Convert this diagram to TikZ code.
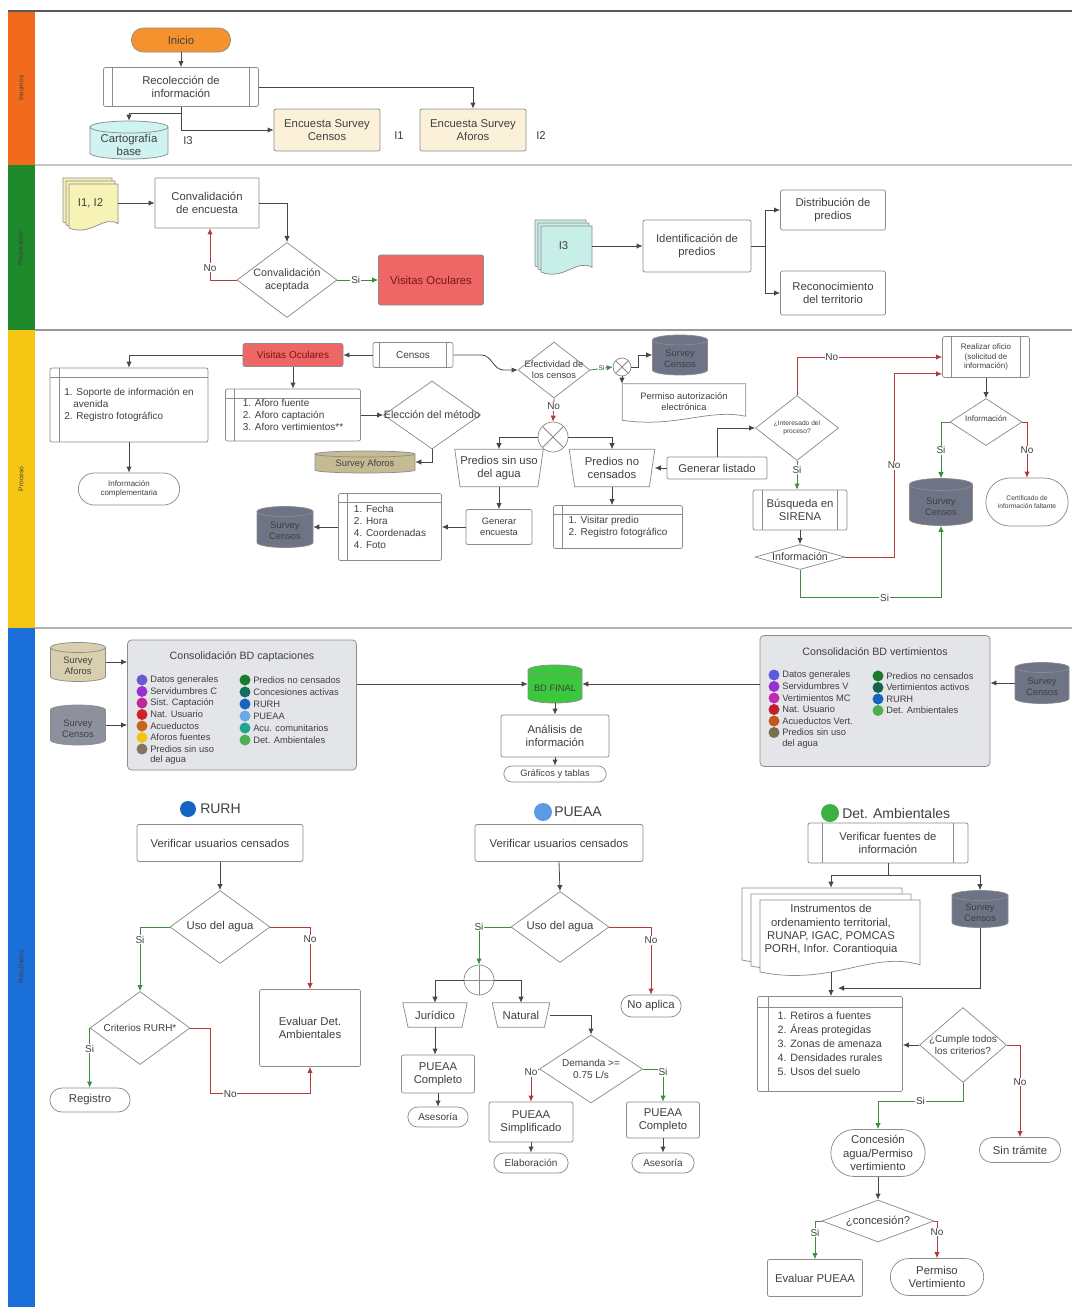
\documentclass[tikz,border=0pt]{standalone}
\usepackage{fontspec}
\setmainfont{Liberation Sans}
\usetikzlibrary{shapes.geometric,shapes.misc,arrows.meta,calc}
\definecolor{laneO}{HTML}{F26A1B}
\definecolor{laneG}{HTML}{1F8A2C}
\definecolor{laneY}{HTML}{F6C615}
\definecolor{laneB}{HTML}{1B6FD9}
\definecolor{inicioC}{HTML}{F5922E}
\definecolor{cartC}{HTML}{CFF3F1}
\definecolor{encC}{HTML}{FBF1D8}
\definecolor{docY}{HTML}{F7F3B7}
\definecolor{docC}{HTML}{C8EEE8}
\definecolor{visC}{HTML}{EE6666}
\definecolor{visT}{HTML}{7A1515}
\definecolor{scC}{HTML}{6E7385}
\definecolor{scL}{HTML}{8D919D}
\definecolor{safC}{HTML}{C4BB93}
\definecolor{safL}{HTML}{D8CFAE}
\definecolor{bdC}{HTML}{3CC83C}
\definecolor{consC}{HTML}{E4E5E8}
\definecolor{redL}{HTML}{B23A3A}
\definecolor{grnL}{HTML}{3A8F3A}
\definecolor{txtC}{HTML}{404040}
\definecolor{edgeC}{HTML}{8C8C8C}
\definecolor{lineC}{HTML}{474747}
\definecolor{rurhC}{HTML}{1565C0}
\definecolor{pueaaC}{HTML}{5B9BE6}
\definecolor{detC}{HTML}{3CB043}
\definecolor{lcA}{HTML}{6A5ACD}
\definecolor{lcB}{HTML}{9B30D0}
\definecolor{lcC}{HTML}{C0289A}
\definecolor{lcD}{HTML}{D0202A}
\definecolor{lcE}{HTML}{C8641E}
\definecolor{lcF}{HTML}{F0C419}
\definecolor{lcG}{HTML}{857560}
\definecolor{lcH}{HTML}{1B7A2C}
\definecolor{lcI}{HTML}{13705F}
\definecolor{lcJ}{HTML}{1565C0}
\definecolor{lcK}{HTML}{6AA9E9}
\definecolor{lcL}{HTML}{21A38E}
\definecolor{lcM}{HTML}{4CAF50}
\definecolor{lvA}{HTML}{5B5BE0}
\definecolor{lvB}{HTML}{9B30D0}
\definecolor{lvC}{HTML}{C02AB0}
\definecolor{lvD}{HTML}{C0202A}
\definecolor{lvE}{HTML}{C0581E}
\definecolor{lvF}{HTML}{77704E}
\definecolor{lvG}{HTML}{1B7A2C}
\definecolor{lvH}{HTML}{146150}
\definecolor{lvI}{HTML}{1565C0}
\definecolor{lvJ}{HTML}{4CAF50}
\newcommand\myfM{\fontsize{8.5}{10}\selectfont}
\newcommand\myfL{\fontsize{7.5}{9}\selectfont}
\newcommand\myfS{\fontsize{7}{8.2}\selectfont}
\newcommand\myfX{\fontsize{6}{7}\selectfont}
\newcommand\myfT{\fontsize{5}{6}\selectfont}
\newcommand\myfH{\fontsize{10.5}{12}\selectfont}
\tikzset{
 bw/.style={minimum width=#1*0.75pt},
 bh/.style={minimum height=#1*0.75pt},
 txt/.style={font=\myfM, text=txtC, align=center},
 plain/.style={txt, inner sep=0pt},
 shapeline/.style={draw=edgeC, line width=0.55pt},
 box/.style={txt, shapeline, rounded corners=1.5pt, fill=white, inner sep=1pt},
 predef/.style={box, path picture={
   \draw[edgeC, line width=0.55pt] ([xshift=#1]path picture bounding box.north west) -- ([xshift=#1]path picture bounding box.south west);
   \draw[edgeC, line width=0.55pt] ([xshift=-#1]path picture bounding box.north east) -- ([xshift=-#1]path picture bounding box.south east);}},
 predef/.default=6pt,
 liststore/.style={box, align=left, font=\myfL, path picture={
   \draw[edgeC, line width=0.55pt] ([xshift=#1]path picture bounding box.north west) -- ([xshift=#1]path picture bounding box.south west);
   \draw[edgeC, line width=0.55pt] ([yshift=-#1]path picture bounding box.north west) -- ([yshift=-#1]path picture bounding box.north east);}},
 liststore/.default=7pt,
 pill/.style={txt, rounded rectangle, shapeline, fill=white, inner sep=1pt},
 dia/.style={diamond, shapeline, fill=white, inner sep=0pt},
 sumj/.style={circle, shapeline, fill=white, inner sep=0pt, minimum size=#1*0.75pt, path picture={
   \draw[edgeC, line width=0.55pt] (path picture bounding box.north west) -- (path picture bounding box.south east) (path picture bounding box.north east) -- (path picture bounding box.south west);}},
 orj/.style={circle, shapeline, fill=white, inner sep=0pt, minimum size=#1*0.75pt, path picture={
   \draw[edgeC, line width=0.55pt] (path picture bounding box.north) -- (path picture bounding box.south) (path picture bounding box.west) -- (path picture bounding box.east);}},
 con/.style={draw=lineC, line width=0.6pt},
 arr/.style={con, -{Latex[length=4.5pt,width=4pt]}},
 rarr/.style={arr, draw=redL},
 garr/.style={arr, draw=grnL},
 lab/.style={txt, font=\myfL, fill=white, inner sep=0.6pt},
 lanelab/.style={rotate=90, font=\myfT, text=black!75},
 legt/.style={txt, font=\myfS, align=left, anchor=west, inner sep=0pt},
 legd/.style={circle, inner sep=0pt, minimum size=11*0.75pt},
}
\newcommand\cylfont{\myfS}
\newcommand\cylnode[8]{%
 \pgfmathsetmacro\cyA{#2-#4/2}\pgfmathsetmacro\cyB{#2+#4/2}%
 \pgfmathsetmacro\cyT{#3-#5/2+#7}\pgfmathsetmacro\cyD{#3+#5/2-#7}%
 \pgfmathsetmacro\cyR{#4*0.375}\pgfmathsetmacro\cyE{#7*0.75}%
 \draw[shapeline, fill=#6] (\cyA,\cyT) -- (\cyA,\cyD) arc[start angle=180, end angle=360, x radius=\cyR pt, y radius=\cyE pt] -- (\cyB,\cyT) arc[start angle=0, end angle=180, x radius=\cyR pt, y radius=\cyE pt] -- cycle;
 \draw[shapeline] (\cyB,\cyT) arc[start angle=360, end angle=180, x radius=\cyR pt, y radius=\cyE pt];
 \node[plain, minimum width=#4*0.75pt, minimum height=#5*0.75pt, label={[plain, font=\cylfont, yshift=-#7*0.6pt]center:#8}] (#1) at (#2,#3) {};
}
\newcommand\docpath[5]{%
 \pgfmathsetmacro\dkW{#3-(#1)}\pgfmathsetmacro\dkA{(#4-(#2))*0.1}%
 \draw[shapeline, fill=#5] (#1,#2) -- (#3,#2) -- (#3,#4-\dkA) .. controls (#3-0.3*\dkW,#4-3*\dkA) and (#1+0.45*\dkW,#4+2*\dkA) .. (#1,#4) -- cycle;
}
\newcommand\mdocnode[9]{%
 \pgfmathsetmacro\mdA{#2-2*#7}\pgfmathsetmacro\mdB{#3-2*#8}%
 \pgfmathsetmacro\mdC{#4-2*#7}\pgfmathsetmacro\mdD{#5-2*#8}%
 \docpath{\mdA}{\mdB}{\mdC}{\mdD}{#6}%
 \pgfmathsetmacro\mdA{#2-#7}\pgfmathsetmacro\mdB{#3-#8}%
 \pgfmathsetmacro\mdC{#4-#7}\pgfmathsetmacro\mdD{#5-#8}%
 \docpath{\mdA}{\mdB}{\mdC}{\mdD}{#6}%
 \docpath{#2}{#3}{#4}{#5}{#6}%
 \pgfmathsetmacro\mdA{#2-2*#7}\pgfmathsetmacro\mdB{#3-2*#8}%
 \node[plain, minimum width=(#4-\mdA)*0.75pt, minimum height=(#5-\mdB)*0.75pt] (#1) at ({(\mdA+#4)/2},{(\mdB+#5)/2}) {#9};%
}
\newcommand\trapdraw[1]{\draw[shapeline] (#1.north west) -- (#1.north east) -- ([xshift=-4pt]#1.south east) -- ([xshift=4pt]#1.south west) -- cycle;}
\newcommand\legitem[5]{\node[legd, fill=#4] (#1d) at (#2,#3) {};\node[legt] (#1) at (#2+8,#3) {#5};}
\begin{document}
\begin{tikzpicture}[x=0.75pt,y=-0.75pt]
\useasboundingbox (0,0) rectangle (1072,1307);
\fill[white] (0,0) rectangle (1072,1307);
% ---------------- lanes
\fill[laneO] (8,12) rectangle (35,165);
\fill[laneG] (8,165) rectangle (35,330);
\fill[laneY] (8,330) rectangle (35,628);
\fill[laneB] (8,628) rectangle (35,1307);
\draw[black!65, line width=1.1pt] (8,11) -- (1072,11);
\draw[black!22, line width=1.5pt] (35,165) -- (1072,165);
\draw[black!40, line width=1pt] (35,330) -- (1072,330);
\draw[black!30, line width=1pt] (35,628) -- (1072,628);
\node[lanelab] (ln1) at (21,88) {Insumos};
\node[lanelab] (ln2) at (21,248) {Preparación};
\node[lanelab] (ln3) at (21,479) {Proceso};
\node[lanelab] (ln4) at (21,967) {Resultados};

% ---------------- lane 1
\node[pill, fill=inicioC, bw=102, bh=24] (ini) at (181,40) {Inicio};
\node[predef=7pt, bw=155, bh=39] (rec) at (181,87) {Recolección de\\información};
\renewcommand\cylfont{\myfM}
\cylnode{cart}{129}{140}{78}{38}{cartC}{6}{Cartografía\\base}
\renewcommand\cylfont{\myfS}
\node[box, fill=encC, bw=106, bh=42] (encc) at (327,130) {Encuesta Survey\\Censos};
\node[plain] (i1) at (399,136) {I1};
\node[box, fill=encC, bw=106, bh=42] (enca) at (473,130) {Encuesta Survey\\Aforos};
\node[plain] (i2) at (541,136) {I2};
\node[plain] (i3) at (188,141) {I3};
\draw[arr] (ini.south) -- (rec.north);
\draw[arr] (rec.south) |- (encc.west);
\draw[arr] ($(rec.south)+(0,7)$) -| (cart.north);
\draw[arr] (rec.east) -| (enca.north);

% ---------------- lane 2
\mdocnode{i12}{69}{184}{118}{228}{docY}{3}{3}{I1, I2}
\node[box, rounded corners=0.5pt, bw=104, bh=50] (conv) at (207,203) {Convalidación\\de encuesta};
\node[dia, bw=100, bh=75] (cacep) at (287,280) {};
\node[plain, font=\fontsize{8}{9.5}\selectfont] (cacepT) at (cacep) {Convalidación\\aceptada};
\node[box, fill=visC, text=visT, bw=105, bh=50] (vo1) at (431,280) {Visitas Oculares};
\draw[arr] (i12.east) -- (conv.west);
\draw[arr] (conv.east) -| (cacep.north);
\draw[rarr] (cacep.west) -| ($(conv.south)+(3,0)$) node[lab, pos=0.62] (lno1) {No};
\draw[garr] (cacep.east) -- (vo1.west) node[lab, pos=0.45] (lsi1) {Si};

\mdocnode{i3d}{541}{226}{592}{272}{docC}{3}{3}{I3}
\node[box, bw=108, bh=52] (ident) at (697,246) {Identificación de\\predios};
\node[box, bw=105, bh=40] (dist) at (833,210) {Distribución de\\predios};
\node[box, bw=105, bh=44] (recon) at (833,293) {Reconocimiento\\del territorio};
\draw[arr] (i3d.east) -- (ident.west);
\draw[con] (ident.east) -- ++(14,0) coordinate (br1);
\draw[arr] (br1) |- (dist.west);
\draw[arr] (br1) |- (recon.west);

% ---------------- lane 3
\node[box, fill=visC, text=visT, font=\myfL, bw=100, bh=23] (vo2) at (293,355) {Visitas Oculares};
\node[predef=5pt, font=\myfL, bw=80, bh=25] (cen) at (413,355) {Censos};
\node[liststore, bw=158, bh=74] (sop) at (129,405) {1. Soporte de información en\\\hspace*{0.9em}avenida\\2. Registro fotográfico};
\node[pill, font=\myfX, bw=104, bh=32] (infc) at (129,489) {Información\\complementaria};
\node[liststore, bw=135, bh=52] (afo) at (293,415) {1. Aforo fuente\\2. Aforo captación\\3. Aforo vertimientos**};
\node[dia, bw=97, bh=68] (elec) at (432,415) {};
\node[plain, font=\fontsize{8}{9.5}\selectfont] (elecT) at (elec) {Elección del método};
\cylnode{saf1}{365}{462}{100}{22}{safC}{3}{Survey Aforos}
\node[dia, bw=72, bh=56] (efec) at (554,370) {};
\node[plain, font=\myfS] (efecT) at (efec) {Efectividad de\\los censos};
\node[sumj=18] (cx1) at (622,367) {};
\cylnode{sc1}{680}{355}{55}{40}{scC}{5}{Survey\\Censos}
\node[plain, font=\myfS, bw=123, bh=36] (perm) at (684,402) {Permiso autorización\\electrónica};
\draw[shapeline] (perm.north west) -- (perm.north east) -- ([yshift=3pt]perm.south east) .. controls ($(perm.south east)+(-28pt,9pt)$) and ($(perm.south west)+(40pt,-6pt)$) .. (perm.south west) -- cycle;
\node[sumj=30] (cx2) at (553,437) {};
\node[plain, bw=88, bh=37] (psu) at (499,468) {Predios sin uso\\del agua};
\node[plain, bw=85, bh=37] (pnc) at (612,468) {Predios no\\censados};
\trapdraw{psu}\trapdraw{pnc}
\node[box, bw=100, bh=22] (glis) at (717,468) {Generar listado};
\node[box, font=\myfS, bw=66, bh=35] (genc) at (499,527) {Generar\\encuesta};
\node[liststore, bw=129, bh=43] (vis) at (618,527) {1. Visitar predio\\2. Registro fotográfico};
\node[liststore, bw=103, bh=67] (fec) at (390,527) {1. Fecha\\2. Hora\\4. Coordenadas\\4. Foto};
\cylnode{sc2}{285}{527}{56}{41}{scC}{5}{Survey\\Censos}
\node[dia, bw=83, bh=65] (intd) at (797,428) {};
\node[plain, font=\myfT] (intdT) at (intd) {¿Interesado del\\proceso?};
\node[predef=7pt, bw=94, bh=40] (sir) at (800,510) {Búsqueda en\\SIRENA};
\node[dia, bw=90, bh=25] (infd) at (800,557) {};
\node[plain, font=\fontsize{8}{9.5}\selectfont] (infdT) at (infd) {Información};
\node[predef=7pt, font=\myfX, bw=87, bh=41] (ofi) at (986,357) {Realizar oficio\\(solicitud de\\información)};
\node[dia, bw=72, bh=47] (infd2) at (986,422) {};
\node[plain, font=\myfX] (infd2T) at ($(infd2)+(0,-3)$) {Información};
\cylnode{sc3}{941}{502}{63}{47}{scC}{6}{Survey\\Censos}
\node[pill, font=\myfT, bw=85, bh=48] (cert) at (1027,502) {Certificado de\\información faltante};

\draw[arr] (vo2.west) -| (sop.north);
\draw[arr] (sop.south) -- (infc.north);
\draw[arr] (vo2.south) -- (afo.north);
\draw[arr] (afo.east) -- (elec.west);
\draw[arr] (elec.south) |- (saf1.east);
\draw[arr] (cen.west) -- (vo2.east);
\draw[arr] (cen.east) -- ++(28,0) to[out=0,in=180] ($(efec.west)+(-14,0)$) -- (efec.west);
\draw[garr] (efec.east) -- (cx1.west) node[lab, font=\myfT, pos=0.5] (lsi2) {Si};
\draw[arr] (cx1.east) -- ++(7,0) |- (sc1.west);
\draw[arr] (cx1.south) -- (cx1.south |- perm.north);
\draw[rarr] (efec.south) -- (cx2.north) node[lab, pos=0.35] (lno2) {No};
\draw[arr] (cx2.west) -| (psu.north);
\draw[arr] (cx2.east) -| (pnc.north);
\draw[arr] (glis.west) -- (pnc.east);
\draw[arr] (glis.north) |- (intd.west);
\draw[arr] (psu.south) -- (genc.north);
\draw[arr] (genc.west) -- (fec.east);
\draw[arr] (fec.west) -- (sc2.east);
\draw[arr] (pnc.south) -- (pnc.south |- vis.north);
\draw[rarr] (intd.north) |- (ofi.west) node[lab, pos=0.62] (lno3) {No};
\draw[garr] (intd.south) -- (intd.south |- sir.north) node[lab, pos=0.3] (lsi3) {Si};
\draw[arr] (sir.south) -- (infd.north);
\draw[rarr] (infd.east) -| ($(ofi.south west)+(-48,-4)$) node[lab, pos=0.75] (lno4) {No} -- ($(ofi.south west)+(0,-4)$);
\draw[garr] (infd.south) |- ($(sc3.south)+(0,72)$) node[lab, pos=0.8] (lsi4) {Si} -- (sc3.south);
\draw[arr] (ofi.south) -- (infd2.north);
\draw[garr] (infd2.west) -| (sc3.north) node[lab, pos=0.75] (lsi5) {Si};
\draw[rarr] (infd2.east) -| (cert.north) node[lab, pos=0.75] (lno5) {No};

% ---------------- lane 4 top
\cylnode{saf2}{78}{662}{55}{39}{safL}{5}{Survey\\Aforos}
\cylnode{sc4}{78}{725}{55}{40}{scL}{5}{Survey\\Censos}
\node[box, fill=consC, rounded corners=3pt, bw=229, bh=130] (capt) at (242,705) {};
\node[plain, font=\fontsize{8}{9.5}\selectfont] (captT) at (242,657) {Consolidación BD captaciones};
\draw[arr] (saf2.east) -- (saf2.east -| capt.west);
\draw[arr] (sc4.east) -- (sc4.east -| capt.west);
\legitem{lcA}{142}{680}{lcA}{Datos generales}
\legitem{lcB}{142}{691.5}{lcB}{Servidumbres C}
\legitem{lcC}{142}{703}{lcC}{Sist. Captación}
\legitem{lcD}{142}{714.5}{lcD}{Nat. Usuario}
\legitem{lcE}{142}{726}{lcE}{Acueductos}
\legitem{lcF}{142}{737.5}{lcF}{Aforos fuentes}
\legitem{lcG}{142}{749}{lcG}{Predios sin uso}
\node[legt] (lcGb) at (150,760.5) {del agua};
\legitem{lcH}{245}{680}{lcH}{Predios no censados}
\legitem{lcI}{245}{692}{lcI}{Concesiones activas}
\legitem{lcJ}{245}{704}{lcJ}{RURH}
\legitem{lcK}{245}{716}{lcK}{PUEAA}
\legitem{lcL}{245}{728}{lcL}{Acu. comunitarios}
\legitem{lcM}{245}{740}{lcM}{Det. Ambientales}

\cylnode{bdf}{555}{684}{54}{38}{bdC}{5}{BD FINAL}
\draw[arr] (capt.east |- bdf.west) -- (bdf.west);
\node[box, fill=consC, rounded corners=3pt, bw=230, bh=131] (vert) at (875,701) {};
\node[plain, font=\fontsize{8}{9.5}\selectfont] (vertT) at (875,652) {Consolidación BD vertimientos};
\cylnode{sc6}{1042}{683}{54}{41}{scC}{5}{Survey\\Censos}
\draw[arr] (vert.west |- bdf.east) -- (bdf.east);
\draw[arr] (sc6.west) -- (sc6.west -| vert.east);
\legitem{lvA}{774}{675}{lvA}{Datos generales}
\legitem{lvB}{774}{686.5}{lvB}{Servidumbres V}
\legitem{lvC}{774}{698}{lvC}{Vertimientos MC}
\legitem{lvD}{774}{709.5}{lvD}{Nat. Usuario}
\legitem{lvE}{774}{721}{lvE}{Acueductos Vert.}
\legitem{lvF}{774}{732.5}{lvF}{Predios sin uso}
\node[legt] (lvFb) at (782,744) {del agua};
\legitem{lvG}{878}{676}{lvG}{Predios no censados}
\legitem{lvH}{878}{687.5}{lvH}{Vertimientos activos}
\legitem{lvI}{878}{699}{lvI}{RURH}
\legitem{lvJ}{878}{710.5}{lvJ}{Det. Ambientales}
\node[box, bw=108, bh=42] (ana) at (555,736) {Análisis de\\información};
\node[pill, font=\myfS, bw=105, bh=16] (graf) at (555,774) {Gráficos y tablas};
\draw[arr] (bdf.south) -- (ana.north);
\draw[arr] (ana.south) -- (graf.north);

% ---------------- RURH
\node[circle, fill=rurhC, inner sep=0pt, minimum size=16*0.75pt] (rdot) at (188,809) {};
\node[plain, font=\myfH, anchor=west] (rtit) at (200,809) {RURH};
\node[box, bw=166, bh=37] (rver) at (220,843) {Verificar usuarios censados};
\node[dia, bw=100, bh=73] (ruso) at (220,927) {};
\node[plain] (rusoT) at (ruso) {Uso del agua};
\node[dia, bw=100, bh=73] (rcrit) at (140,1028) {};
\node[plain, font=\myfL] (rcritT) at (rcrit) {Criterios RURH*};
\node[box, bw=101, bh=77] (reva) at (310,1028) {Evaluar Det.\\Ambientales};
\node[pill, bw=83, bh=24] (rreg) at (90,1100) {Registro};
\draw[arr] (rver.south) -- (ruso.north);
\draw[garr] (ruso.west) -| (rcrit.north) node[lab, pos=0.6] (lsi6) {Si};
\draw[rarr] (ruso.east) -| (reva.north) node[lab, pos=0.6] (lno6) {No};
\draw[garr] (rcrit.west) -- (rcrit.west |- rreg.north) node[lab, pos=0.35] (lsi7) {Si};
\draw[rarr] (rcrit.east) -- ++(20,0) |- ($(reva.south)+(0,27)$) node[lab, pos=0.6] (lno7) {No} -- (reva.south);

% ---------------- PUEAA
\node[circle, fill=pueaaC, inner sep=0pt, minimum size=18*0.75pt] (pdot) at (543,812) {};
\node[plain, font=\myfH, anchor=west] (ptit) at (554,812) {PUEAA};
\node[box, bw=168, bh=37] (pver) at (559,843) {Verificar usuarios censados};
\node[dia, bw=98, bh=71] (puso) at (560,927) {};
\node[plain] (pusoT) at (puso) {Uso del agua};
\node[orj=30] (por) at (479,980) {};
\node[plain, bw=64, bh=24] (pjur) at (435,1015) {Jurídico};
\node[plain, bw=57, bh=24] (pnat) at (521,1015) {Natural};
\trapdraw{pjur}\trapdraw{pnat}
\node[pill, bw=63, bh=22] (pna) at (651,1006) {No aplica};
\node[box, bw=73, bh=38] (pcom1) at (438,1074) {PUEAA\\Completo};
\node[pill, font=\myfL, bw=63, bh=20] (pase1) at (438,1117) {Asesoría};
\node[dia, bw=103, bh=68] (pdem) at (591,1069) {};
\node[plain, font=\myfL] (pdemT) at (pdem) {Demanda >=\\0.75 L/s};
\node[box, bw=84, bh=40] (psim) at (531,1122) {PUEAA\\Simplificado};
\node[box, bw=73, bh=36] (pcom2) at (663,1120) {PUEAA\\Completo};
\node[pill, font=\myfL, bw=77, bh=20] (pela) at (531,1163) {Elaboración};
\node[pill, font=\myfL, bw=65, bh=20] (pase2) at (663,1163) {Asesoría};
\draw[arr] (pver.south) -- (puso.north);
\draw[garr] (puso.west) -| (por.north) node[lab, pos=0.5] (lsi8) {Si};
\draw[arr] (por.west) -| (pjur.north);
\draw[arr] (por.east) -| (pnat.north);
\draw[rarr] (puso.east) -| (pna.north) node[lab, pos=0.6] (lno8) {No};
\draw[arr] (pjur.south) -- (pjur.south |- pcom1.north);
\draw[arr] (pcom1.south) -- (pase1.north);
\draw[arr] (pnat.east) -| (pdem.north);
\draw[rarr] (pdem.west) -| (psim.north) node[lab, pos=0.55] (lno9) {No};
\draw[garr] (pdem.east) -| (pcom2.north) node[lab, pos=0.55] (lsi9) {Si};
\draw[arr] (psim.south) -- (pela.north);
\draw[arr] (pcom2.south) -- (pase2.north);

% ---------------- Det. Ambientales
\node[circle, fill=detC, inner sep=0pt, minimum size=18*0.75pt] (ddot) at (830,813) {};
\node[plain, font=\myfH, anchor=west] (dtit) at (842,813) {Det. Ambientales};
\node[predef=11pt, bw=160, bh=40] (dver) at (888,843) {Verificar fuentes de\\información};
\mdocnode{dmd}{760}{900}{920}{972}{white}{9}{6}{Instrumentos de\\ordenamiento territorial,\\RUNAP, IGAC, POMCAS\\PORH, Infor. Corantioquia}
\cylnode{sc5}{980}{909}{56}{37}{scC}{5}{Survey\\Censos}
\node[liststore=8pt, font=\fontsize{8}{10.5}\selectfont, bw=145, bh=95] (dlst) at (830,1044) {1. Retiros a fuentes\\2. Áreas protegidas\\3. Zonas de amenaza\\4. Densidades rurales\\5. Usos del suelo};
\node[dia, bw=87, bh=75] (dcum) at (963,1045) {};
\node[plain, font=\myfL] (dcumT) at (dcum) {¿Cumple todos\\los criterios?};
\node[pill, bw=84, bh=25] (dsin) at (1020,1150) {Sin trámite};
\node[pill, bw=97, bh=47] (dcon) at (878,1153) {Concesión\\agua/Permiso\\vertimiento};
\node[dia, bw=112, bh=42] (dcq) at (878,1221) {};
\node[plain] (dcqT) at (dcq) {¿concesión?};
\node[box, bw=95, bh=37] (dev) at (815,1278) {Evaluar PUEAA};
\node[pill, bw=96, bh=37] (dperm) at (937,1277) {Permiso\\Vertimiento};
\draw[con] (dver.south) -- ++(0,12) coordinate (dj);
\draw[arr] (dj) -| (dmd.north);
\draw[arr] (dj) -| (sc5.north);
\draw[arr] (dmd.south) -- (dmd.south |- dlst.north);
\draw[arr] (sc5.south) |- ($(dlst.north)+(8,-8)$);
\draw[arr] (dcum.west) -- (dcum.west -| dlst.east);
\draw[rarr] (dcum.east) -| (dsin.north) node[lab, pos=0.7] (lno10) {No};
\draw[garr] (dcum.south) |- ($(dcon.north)+(0,-28)$) node[lab, pos=0.75] (lsi10) {Si} -- (dcon.north);
\draw[arr] (dcon.south) -- (dcq.north);
\draw[garr] (dcq.west) -| (dev.north) node[lab, pos=0.65] (lsi11) {Si};
\draw[rarr] (dcq.east) -| (dperm.north) node[lab, pos=0.65] (lno11) {No};
\end{tikzpicture}
\end{document}
